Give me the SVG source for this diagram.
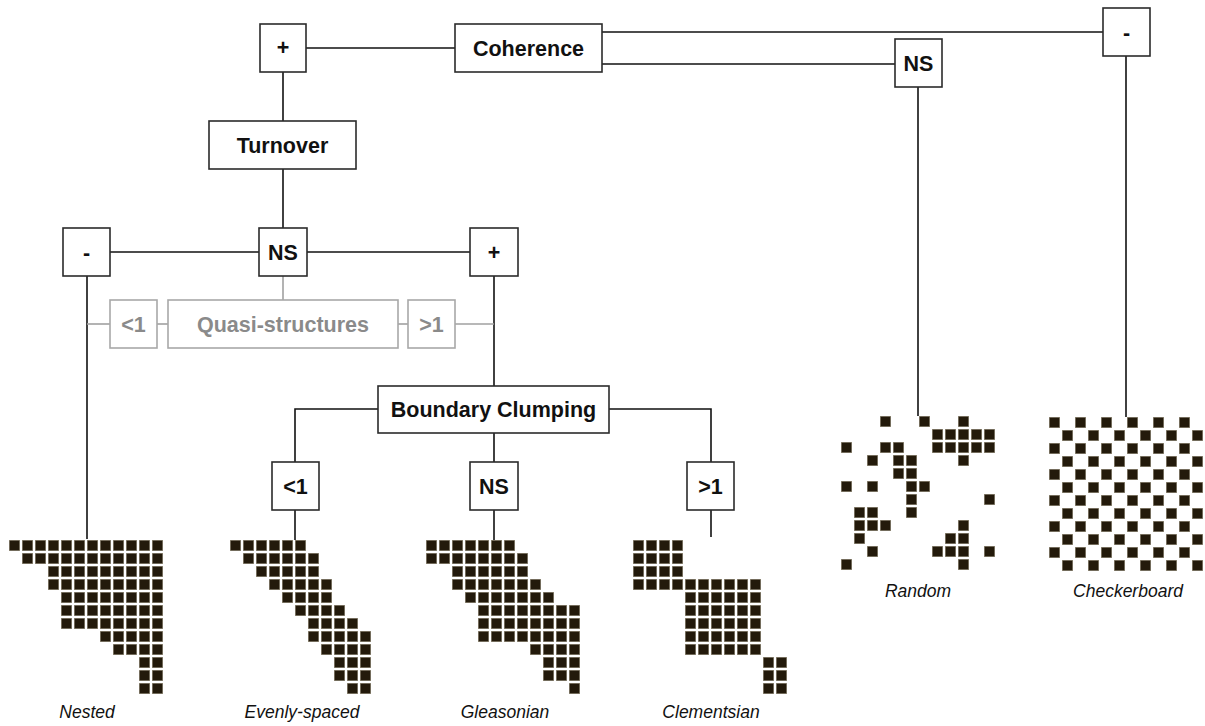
<svg xmlns="http://www.w3.org/2000/svg" width="1205" height="726" viewBox="0 0 1205 726">
<style>
.box{fill:#fff;stroke:#2b2b2b;stroke-width:1.6}
.gbox{fill:#fff;stroke:#a8a8a8;stroke-width:1.6}
.lbl{font-family:"Liberation Sans",Arial,sans-serif;font-weight:bold;font-size:21.5px;fill:#111;text-anchor:middle}
.glbl{font-family:"Liberation Sans",Arial,sans-serif;font-weight:bold;font-size:21.5px;fill:#8a8a8a;text-anchor:middle}
.cap{font-family:"Liberation Sans",Arial,sans-serif;font-style:italic;font-size:17.5px;fill:#111;text-anchor:middle}
.ln{fill:none;stroke:#111;stroke-width:1.6}
.gln{fill:none;stroke:#a0a0a0;stroke-width:1.6}
.cells{fill:url(#cell)}
</style>
<defs>
<pattern id="cell" patternUnits="userSpaceOnUse" x="0" y="0" width="13" height="13">
<rect x="0.25" y="0.25" width="10.5" height="10.5" fill="#231a0b" stroke="#8c846f" stroke-width="0.5"/>
</pattern>
<pattern id="checker" patternUnits="userSpaceOnUse" x="0" y="0" width="26" height="26">
<rect x="0.25" y="0.25" width="10.5" height="10.5" fill="#231a0b" stroke="#8c846f" stroke-width="0.5"/>
<rect x="13.25" y="13.25" width="10.5" height="10.5" fill="#231a0b" stroke="#8c846f" stroke-width="0.5"/>
</pattern>
</defs>
<rect width="1205" height="726" fill="#fff"/>

<g id="connectors">
<path class="ln" d="M306 48H455"/>
<path class="ln" d="M602 32H1103"/>
<path class="ln" d="M602 64H895"/>
<path class="ln" d="M283 72V121"/>
<path class="ln" d="M283 169V228"/>
<path class="ln" d="M110 252H259"/>
<path class="ln" d="M307 252H470"/>
<path class="ln" d="M87 276V539"/>
<path class="ln" d="M494 276V386"/>
<path class="gln" d="M283 276V300"/>
<path class="gln" d="M87 324H110"/>
<path class="gln" d="M157 324H168"/>
<path class="gln" d="M398 324H408"/>
<path class="gln" d="M455 324H494"/>
<path class="ln" d="M378 409H295V462"/>
<path class="ln" d="M609 409H711V462"/>
<path class="ln" d="M494 433V462"/>
<path class="ln" d="M295 510V540"/>
<path class="ln" d="M494 510V540"/>
<path class="ln" d="M711 510V537"/>
<path class="ln" d="M918 87V416"/>
<path class="ln" d="M1126 56V417"/>
</g>

<g id="node-plus-top"><rect class="box" x="260" y="24" width="46" height="48"/><text class="lbl" x="283" y="55">+</text></g>
<g id="node-coherence"><rect class="box" x="455" y="24" width="147" height="48"/><text class="lbl" x="528.5" y="55.5">Coherence</text></g>
<g id="node-ns-top"><rect class="box" x="895" y="39" width="47" height="48"/><text class="lbl" x="918.5" y="70.5">NS</text></g>
<g id="node-minus-top"><rect class="box" x="1103" y="8" width="47" height="48"/><text class="lbl" x="1126.5" y="39.5">-</text></g>
<g id="node-turnover"><rect class="box" x="209" y="121" width="147" height="48"/><text class="lbl" x="282.5" y="152.5">Turnover</text></g>
<g id="node-minus-mid"><rect class="box" x="63" y="228" width="47" height="48"/><text class="lbl" x="86.5" y="259.5">-</text></g>
<g id="node-ns-mid"><rect class="box" x="259" y="228" width="48" height="48"/><text class="lbl" x="283" y="259.5">NS</text></g>
<g id="node-plus-mid"><rect class="box" x="470" y="228" width="48" height="48"/><text class="lbl" x="494" y="259.5">+</text></g>
<g id="node-q-lt1"><rect class="gbox" x="110" y="300" width="47" height="48"/><text class="glbl" x="133.5" y="331.5">&lt;1</text></g>
<g id="node-quasi"><rect class="gbox" x="168" y="300" width="230" height="48"/><text class="glbl" x="283" y="331.5">Quasi-structures</text></g>
<g id="node-q-gt1"><rect class="gbox" x="408" y="300" width="47" height="48"/><text class="glbl" x="431.5" y="331.5">&gt;1</text></g>
<g id="node-boundary"><rect class="box" x="378" y="386" width="231" height="47"/><text class="lbl" x="493.5" y="417">Boundary Clumping</text></g>
<g id="node-bc-lt1"><rect class="box" x="272" y="462" width="47" height="48"/><text class="lbl" x="295.5" y="493.5">&lt;1</text></g>
<g id="node-bc-ns"><rect class="box" x="470" y="462" width="48" height="48"/><text class="lbl" x="494" y="493.5">NS</text></g>
<g id="node-bc-gt1"><rect class="box" x="687" y="462" width="47" height="48"/><text class="lbl" x="710.5" y="493.5">&gt;1</text></g>

<g id="node-nested">
<g transform="translate(9,540)">
<rect class="cells" x="0" y="0" width="156" height="13"/>
<rect class="cells" x="13" y="13" width="143" height="13"/>
<rect class="cells" x="39" y="26" width="117" height="26"/>
<rect class="cells" x="52" y="52" width="104" height="39"/>
<rect class="cells" x="91" y="91" width="65" height="13"/>
<rect class="cells" x="104" y="104" width="52" height="13"/>
<rect class="cells" x="130" y="117" width="26" height="39"/>
</g>
<text class="cap" x="87" y="718">Nested</text>
</g>

<g id="node-evenly">
<g transform="translate(230,540)">
<rect class="cells" x="0" y="0" width="78" height="13"/>
<rect class="cells" x="13" y="13" width="78" height="13"/>
<rect class="cells" x="26" y="26" width="65" height="13"/>
<rect class="cells" x="39" y="39" width="65" height="13"/>
<rect class="cells" x="52" y="52" width="52" height="13"/>
<rect class="cells" x="65" y="65" width="52" height="13"/>
<rect class="cells" x="78" y="78" width="52" height="13"/>
<rect class="cells" x="78" y="91" width="65" height="13"/>
<rect class="cells" x="91" y="104" width="52" height="13"/>
<rect class="cells" x="104" y="117" width="39" height="26"/>
<rect class="cells" x="117" y="143" width="26" height="13"/>
</g>
<text class="cap" x="302" y="718">Evenly-spaced</text>
</g>

<g id="node-gleasonian">
<g transform="translate(426,540)">
<rect class="cells" x="0" y="0" width="91" height="13"/>
<rect class="cells" x="0" y="13" width="104" height="13"/>
<rect class="cells" x="26" y="26" width="78" height="13"/>
<rect class="cells" x="26" y="39" width="91" height="13"/>
<rect class="cells" x="39" y="52" width="91" height="13"/>
<rect class="cells" x="52" y="65" width="104" height="39"/>
<rect class="cells" x="104" y="104" width="52" height="13"/>
<rect class="cells" x="117" y="117" width="39" height="26"/>
<rect class="cells" x="143" y="143" width="13" height="13"/>
</g>
<text class="cap" x="505" y="718">Gleasonian</text>
</g>

<g id="node-clementsian">
<g transform="translate(633,540)">
<rect class="cells" x="0" y="0" width="52" height="39"/>
<rect class="cells" x="0" y="39" width="130" height="13"/>
<rect class="cells" x="52" y="52" width="78" height="65"/>
<rect class="cells" x="130" y="117" width="26" height="39"/>
</g>
<text class="cap" x="711" y="718">Clementsian</text>
</g>

<g id="node-random">
<g transform="translate(841,416)">
<rect class="cells" x="39" y="0" width="13" height="13"/>
<rect class="cells" x="78" y="0" width="13" height="13"/>
<rect class="cells" x="117" y="0" width="13" height="13"/>
<rect class="cells" x="91" y="13" width="65" height="26"/>
<rect class="cells" x="0" y="26" width="13" height="13"/>
<rect class="cells" x="39" y="26" width="26" height="13"/>
<rect class="cells" x="26" y="39" width="13" height="13"/>
<rect class="cells" x="52" y="39" width="26" height="26"/>
<rect class="cells" x="117" y="39" width="13" height="13"/>
<rect class="cells" x="0" y="65" width="13" height="13"/>
<rect class="cells" x="26" y="65" width="13" height="13"/>
<rect class="cells" x="65" y="65" width="26" height="13"/>
<rect class="cells" x="65" y="78" width="13" height="26"/>
<rect class="cells" x="143" y="78" width="13" height="13"/>
<rect class="cells" x="13" y="91" width="26" height="13"/>
<rect class="cells" x="13" y="104" width="39" height="13"/>
<rect class="cells" x="117" y="104" width="13" height="13"/>
<rect class="cells" x="13" y="117" width="13" height="13"/>
<rect class="cells" x="104" y="117" width="26" height="13"/>
<rect class="cells" x="26" y="130" width="13" height="13"/>
<rect class="cells" x="91" y="130" width="39" height="13"/>
<rect class="cells" x="143" y="130" width="13" height="13"/>
<rect class="cells" x="0" y="143" width="13" height="13"/>
<rect class="cells" x="117" y="143" width="13" height="13"/>
</g>
<text class="cap" x="918" y="597">Random</text>
</g>

<g id="node-checkerboard">
<g transform="translate(1049,417)">
<rect x="0" y="0" width="156" height="156" fill="url(#checker)"/>
</g>
<text class="cap" x="1128" y="597">Checkerboard</text>
</g>
</svg>
